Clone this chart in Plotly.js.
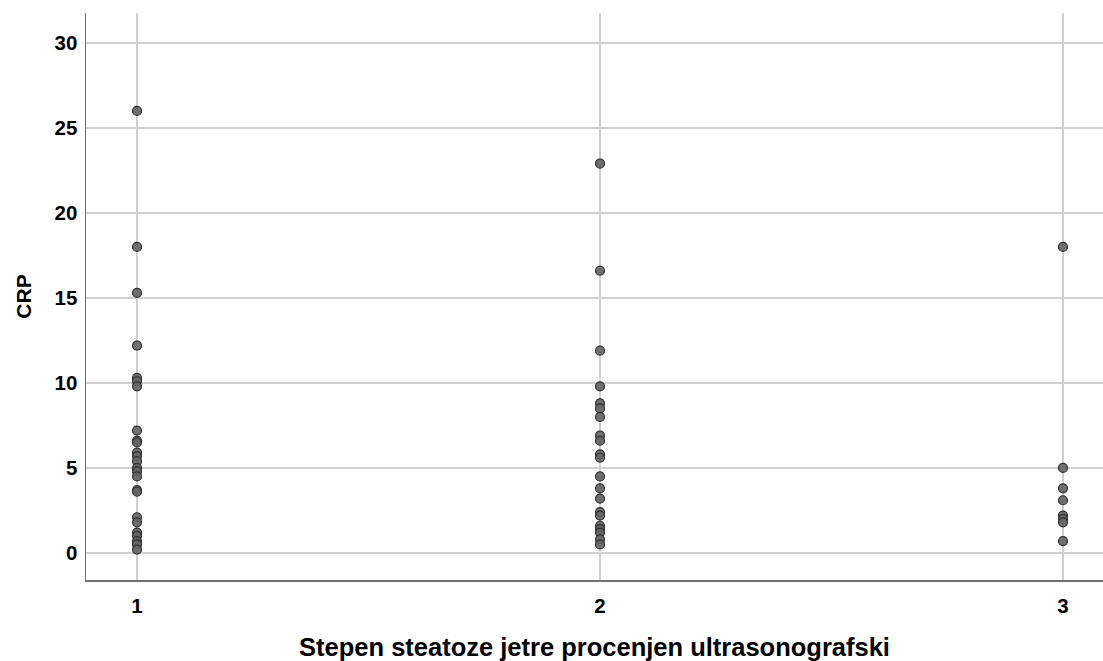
<!DOCTYPE html>
<html>
<head>
<meta charset="utf-8">
<script src="https://cdn.plot.ly/plotly-3.0.1.min.js"></script>
<style>html,body{margin:0;padding:0;background:#fff;}#chart{width:1103px;height:661px;}</style>
</head>
<body>
<div id="chart"></div>
<script>
const group1 = [26.0, 18.0, 15.3, 12.2, 10.3, 10.1, 9.8, 7.2, 6.6, 6.5, 5.9, 5.7, 5.4, 5.0, 4.8, 4.5, 3.7, 3.6, 2.1, 1.8, 1.2, 1.0, 0.7, 0.5, 0.2];
const group2 = [22.9, 16.6, 11.9, 9.8, 8.8, 8.5, 8.0, 6.9, 6.6, 5.8, 5.6, 4.5, 3.8, 3.2, 2.4, 2.2, 1.6, 1.4, 1.2, 0.8, 0.5];
const group3 = [18.0, 5.0, 3.8, 3.1, 2.2, 2.0, 1.8, 0.7];
const categories = [1, 2, 3];
const xTickLabels = ['1', '2', '3'];
const yTicks = [0, 5, 10, 15, 20, 25, 30];

const groups = [group1, group2, group3];
const xs = [], ys = [];
groups.forEach((g, i) => g.forEach(v => { xs.push(categories[i]); ys.push(v); }));

const trace = {
  x: xs, y: ys, type: 'scatter', mode: 'markers',
  marker: {size: 9, color: 'rgba(100,100,100,0.92)', line: {color: '#303030', width: 1.2}},
  hoverinfo: 'x+y'
};

const FONT = 'Liberation Sans, Arial, sans-serif';
const layout = {
  width: 1103, height: 661,
  margin: {l: 86, r: 0, t: 13, b: 81},
  paper_bgcolor: '#ffffff', plot_bgcolor: '#ffffff',
  showlegend: false,
  font: {family: FONT, color: '#000'},
  xaxis: {
    range: [0.8898, 3.0864],
    tickvals: categories, ticktext: xTickLabels,
    showgrid: true, gridcolor: '#d0d0d0', gridwidth: 2,
    zeroline: false,
    showline: true, linecolor: '#707070', linewidth: 1.5,
    ticks: 'outside', ticklen: 7, tickcolor: 'rgba(0,0,0,0)',
    tickfont: {size: 20.5, family: FONT, color: '#000', weight: 'bold'},
    title: {text: '<b>Stepen steatoze jetre procenjen ultrasonografski</b>', font: {size: 25.5, family: FONT, color: '#000'}, standoff: 23}
  },
  yaxis: {
    range: [-1.59, 31.76],
    tickvals: yTicks,
    showgrid: true, gridcolor: '#d0d0d0', gridwidth: 1.5,
    zeroline: false,
    showline: true, linecolor: '#707070', linewidth: 1.5,
    ticks: 'outside', ticklen: 3, tickcolor: 'rgba(0,0,0,0)',
    tickfont: {size: 20.5, family: FONT, color: '#000', weight: 'bold'},
    title: {text: '<b>CRP</b>', font: {size: 21, family: FONT, color: '#000'}, standoff: 17}
  }
};

Plotly.newPlot('chart', [trace], layout, {displayModeBar: false, staticPlot: true});
</script>
</body>
</html>
